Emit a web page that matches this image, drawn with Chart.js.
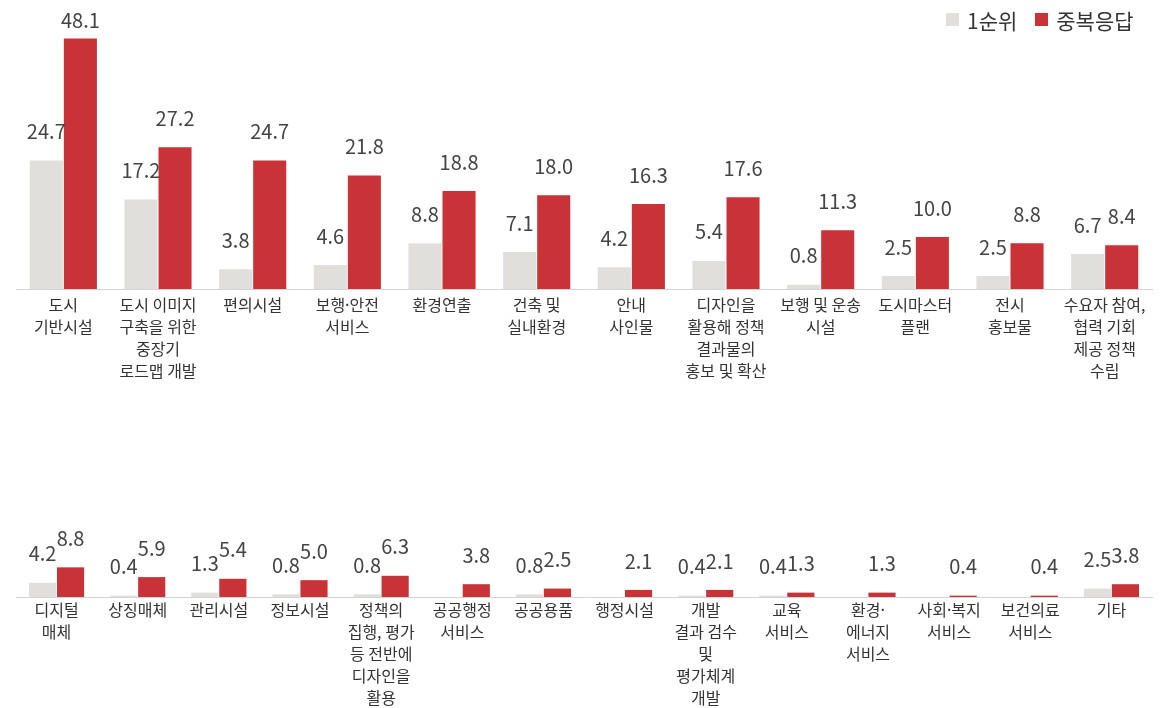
<!DOCTYPE html>
<html lang="ko">
<head>
<meta charset="utf-8">
<script src="https://cdn.jsdelivr.net/npm/chart.js@4.4.0/dist/chart.umd.min.js"></script>
<style>
html, body { margin: 0; padding: 0; background: #fff; }
#wrap { position: relative; width: 1164px; height: 708px; }
#c1 { position: absolute; left: 0; top: 0; }
#c2 { position: absolute; left: 0; top: 410px; }
#legend {
    position: absolute; left: 946px; top: 5px; height: 29px;
    display: flex; align-items: center;
    font-family: "Noto Sans CJK KR", "Noto Sans", sans-serif;
    font-size: 21px; color: #333;
}
#legend .item { display: flex; align-items: center; margin-right: 18px; }
#legend .box { width: 13px; height: 13px; margin-right: 8px; }
</style>
</head>
<body>
<div id="wrap">
  <canvas id="c1" width="1164" height="410"></canvas>
  <canvas id="c2" width="1164" height="298"></canvas>
  <div id="legend"></div>
</div>
<script>
// 상단 패널 항목
const topLabels = [
    ['도시', '기반시설'],
    ['도시 이미지', '구축을 위한', '중장기', '로드맵 개발'],
    ['편의시설'],
    ['보행·안전', '서비스'],
    ['환경연출'],
    ['건축 및', '실내환경'],
    ['안내', '사인물'],
    ['디자인을', '활용해 정책', '결과물의', '홍보 및 확산'],
    ['보행 및 운송', '시설'],
    ['도시마스터', '플랜'],
    ['전시', '홍보물'],
    ['수요자 참여,', '협력 기회', '제공 정책', '수립']
];
const topFirst = [24.7, 17.2, 3.8, 4.6, 8.8, 7.1, 4.2, 5.4, 0.8, 2.5, 2.5, 6.7];
const topMulti = [48.1, 27.2, 24.7, 21.8, 18.8, 18.0, 16.3, 17.6, 11.3, 10.0, 8.8, 8.4];

// 하단 패널 항목
const bottomLabels = [
    ['디지털', '매체'],
    ['상징매체'],
    ['관리시설'],
    ['정보시설'],
    ['정책의', '집행, 평가', '등 전반에', '디자인을', '활용'],
    ['공공행정', '서비스'],
    ['공공용품'],
    ['행정시설'],
    ['개발', '결과 검수', '및', '평가체계', '개발'],
    ['교육', '서비스'],
    ['환경·', '에너지', '서비스'],
    ['사회·복지', '서비스'],
    ['보건의료', '서비스'],
    ['기타']
];
const bottomFirst = [4.2, 0.4, 1.3, 0.8, 0.8, 0, 0.8, 0, 0.4, 0.4, 0, 0, 0, 2.5];
const bottomMulti = [8.8, 5.9, 5.4, 5.0, 6.3, 3.8, 2.5, 2.1, 2.1, 1.3, 1.3, 0.4, 0.4, 3.8];

const seriesNames = ['1순위', '중복응답'];
const GRAY = '#e0dfdc';
const RED = '#c93237';

Chart.defaults.font.family = '"Noto Sans CJK KR", "Noto Sans", sans-serif';
Chart.defaults.color = '#333';

// 막대 위 값 표시 (0은 생략)
const valueLabels = {
    id: 'valueLabels',
    afterDatasetsDraw(chart) {
        const ctx = chart.ctx;
        ctx.save();
        ctx.font = '20px "Noto Sans CJK KR", "Noto Sans", sans-serif';
        ctx.fillStyle = '#444';
        ctx.textAlign = 'center';
        ctx.textBaseline = 'middle';
        chart.data.datasets.forEach((ds, i) => {
            chart.getDatasetMeta(i).data.forEach((bar, j) => {
                const v = ds.data[j];
                if (!v) return;
                const y = Math.max(bar.y - 29, 20);
                ctx.fillText(v.toFixed(1), bar.x, y);
            });
        });
        ctx.restore();
    }
};

function makeChart(id, labels, first, multi, axisHeight, catPct, tickPad) {
    const ctx = document.getElementById(id).getContext('2d');
    return new Chart(ctx, {
        type: 'bar',
        data: {
            labels: labels,
            datasets: [
                { label: seriesNames[0], data: first, backgroundColor: GRAY, borderWidth: 0 },
                { label: seriesNames[1], data: multi, backgroundColor: RED, borderWidth: 0 }
            ]
        },
        options: {
            responsive: false,
            animation: false,
            layout: { padding: { left: 16, right: 12, top: 0, bottom: 0 } },
            datasets: { bar: { barPercentage: 0.97, categoryPercentage: catPct } },
            plugins: {
                legend: { display: false },
                tooltip: { enabled: false }
            },
            scales: {
                x: {
                    grid: { display: false, drawTicks: false },
                    border: { display: true, color: '#d4d4d4', width: 1 },
                    ticks: {
                        autoSkip: false,
                        maxRotation: 0,
                        padding: tickPad,
                        color: '#333',
                        font: { size: 16, lineHeight: 1.38 }
                    },
                    afterFit: s => { s.height = axisHeight; }
                },
                y: { display: false, min: 0, max: 55.5 }
            }
        },
        plugins: [valueLabels]
    });
}

const topChart = makeChart('c1', topLabels, topFirst, topMulti, 121, 0.72, 5);
makeChart('c2', bottomLabels, bottomFirst, bottomMulti, 111, 0.69, 2);

// 범례 (HTML)
const legendEl = document.getElementById('legend');
topChart.data.datasets.forEach(ds => {
    const item = document.createElement('div');
    item.className = 'item';
    const box = document.createElement('span');
    box.className = 'box';
    box.style.background = ds.backgroundColor;
    const txt = document.createElement('span');
    txt.textContent = ds.label;
    item.appendChild(box);
    item.appendChild(txt);
    legendEl.appendChild(item);
});
</script>
</body>
</html>
